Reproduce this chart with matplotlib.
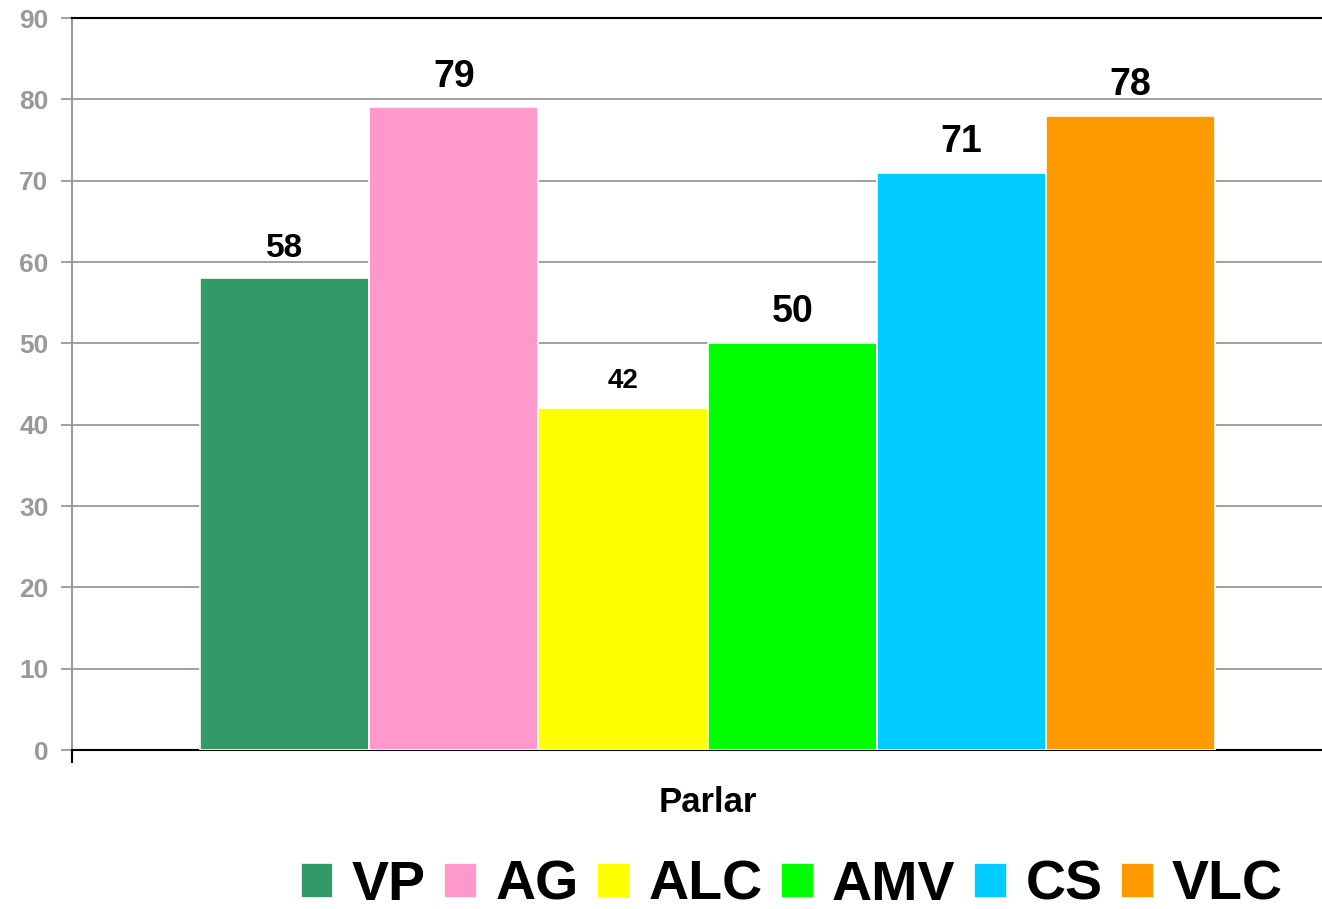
import numpy as np
import matplotlib
matplotlib.use('Agg')
import matplotlib.pyplot as plt

# Chart data
categories = ['VP', 'AG', 'ALC', 'AMV', 'CS', 'VLC']
values = [58, 79, 42, 50, 71, 78]
colors = ['#339966', '#FF99CC', '#FFFF00', '#00FF00', '#00CCFF', '#FF9900']
label_sizes = [24, 27, 20, 27, 27, 27]
yticks = list(range(0, 100, 10))
xlabel = 'Parlar'

plt.rcParams['font.family'] = ['Liberation Sans', 'DejaVu Sans']
plt.rcParams['font.weight'] = 'bold'

fig = plt.figure(figsize=(13.22, 9.09), dpi=100)
ax = fig.add_axes([72 / 1322, 1 - 750 / 909, 1250 / 1322, 732 / 909])

x = np.arange(len(categories))
bars = ax.bar(x, values, width=1.0, align='edge', color=colors,
              edgecolor='white', linewidth=1.2, label=categories, zorder=3)

# value labels above bars
for xi, v, fs in zip(x, values, label_sizes):
    ax.annotate(str(v), xy=(xi + 0.5, v), xytext=(0, 15),
                textcoords='offset points', ha='center', va='baseline',
                fontsize=fs, fontweight='bold', color='black', zorder=4)

ax.set_xlim(-0.757, 6.631)
ax.set_ylim(0, 90)
ax.set_yticks(yticks)
ax.yaxis.grid(True, color='#999999', linewidth=1.3, zorder=0)
ax.set_axisbelow(True)

# x axis: only one tick at the left corner
ax.set_xticks([-0.757])
ax.set_xticklabels([''])
ax.tick_params(axis='x', direction='out', length=9, width=1.5, color='black')
ax.tick_params(axis='y', direction='out', length=8, width=1.3, color='#999999',
               labelsize=19, labelcolor='#999999', pad=9)
for lbl in ax.get_yticklabels():
    lbl.set_fontweight('bold')

ax.spines['right'].set_visible(False)
ax.spines['top'].set_color('black')
ax.spines['top'].set_linewidth(1.5)
ax.spines['bottom'].set_color('black')
ax.spines['bottom'].set_linewidth(1.5)
ax.spines['left'].set_color('#999999')
ax.spines['left'].set_linewidth(1.5)

ax.annotate(xlabel, xy=(3, 0), xycoords=('data', 'axes fraction'),
            xytext=(0, -45), textcoords='offset points',
            ha='center', va='baseline', fontsize=25, fontweight='bold')

leg = fig.legend(handles=bars, labels=categories, ncol=6, frameon=False,
                 loc='center right', bbox_to_anchor=(1283 / 1322, 1 - 886 / 909),
                 prop={'weight': 'bold', 'size': 40},
                 handlelength=0.585, handleheight=0.585, handletextpad=0.33,
                 columnspacing=0.34, borderpad=0, borderaxespad=0)
for h in leg.legend_handles:
    h.set_edgecolor('white')

fig.savefig('out.png', dpi=100)
